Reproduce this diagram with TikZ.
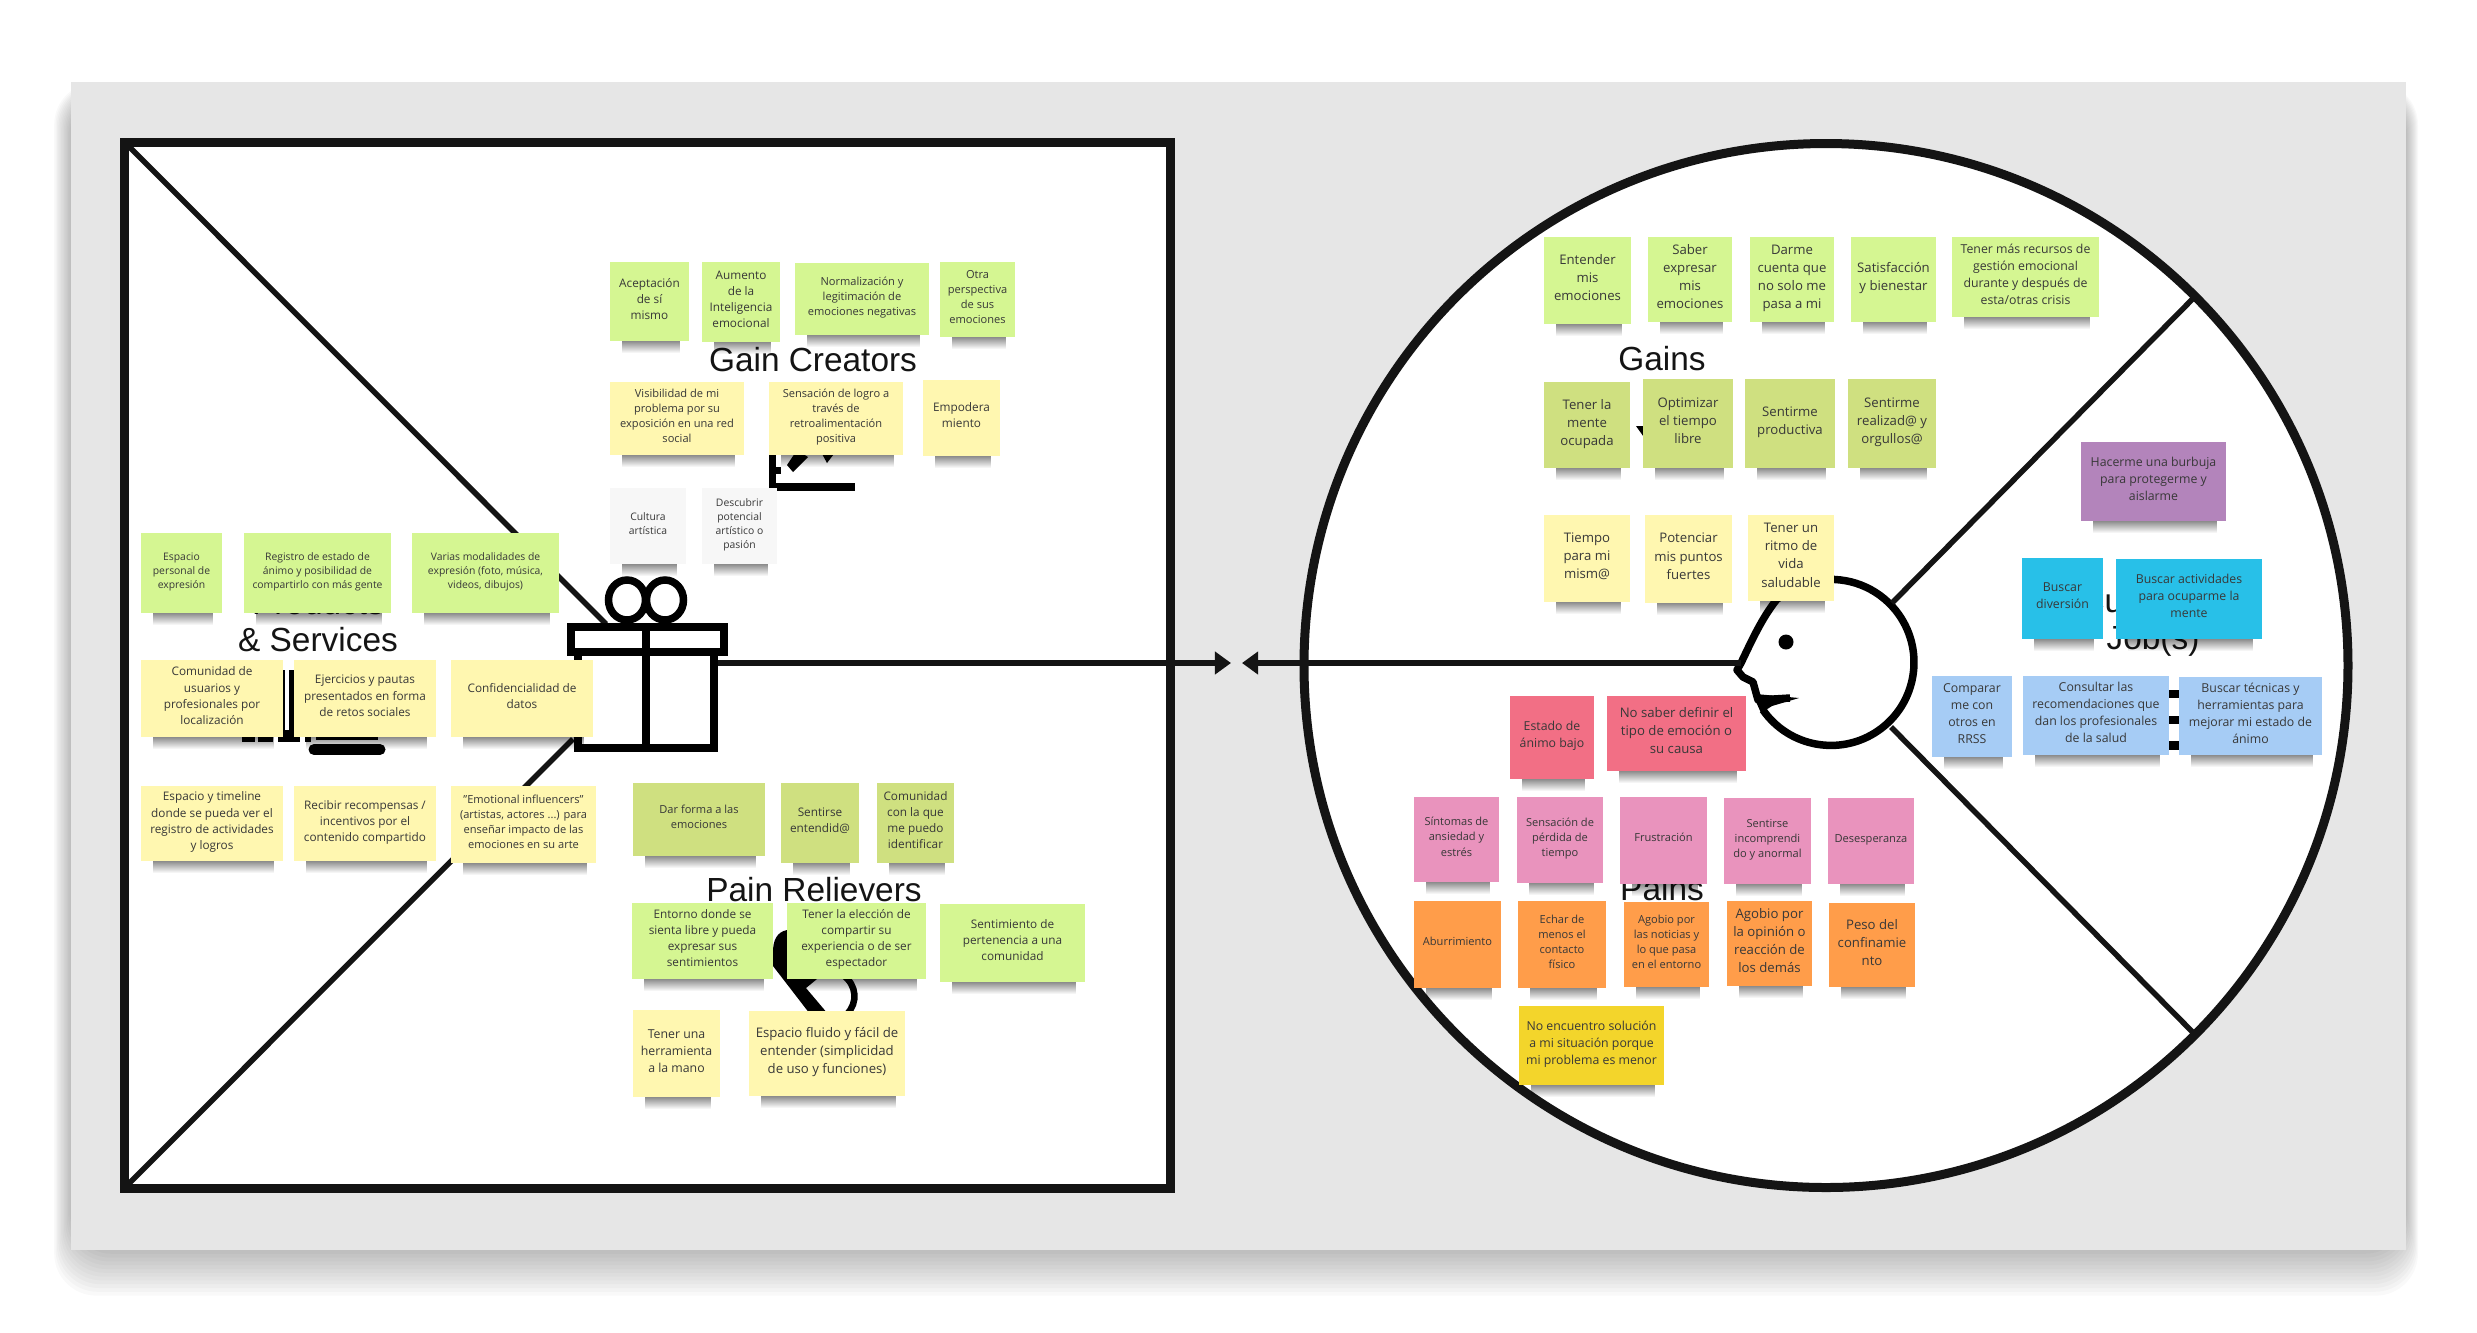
\documentclass[tikz,border=0pt]{standalone}
\usepackage{xcolor}
\usepackage{fontspec}
\usetikzlibrary{arrows.meta, calc, fadings}
\setmainfont{Open Sans}
\newfontfamily\titlefont{Liberation Sans}
\definecolor{canvasgray}{HTML}{E6E6E6}
\definecolor{inkline}{HTML}{141414}
\definecolor{notetext}{HTML}{383838}
\definecolor{notelime}{HTML}{D5F692}
\definecolor{noteolive}{HTML}{CFE080}
\definecolor{notecream}{HTML}{FFF7B0}
\definecolor{notewhite}{HTML}{F7F7F7}
\definecolor{notered}{HTML}{F26F85}
\definecolor{notepink}{HTML}{E993BD}
\definecolor{noteorange}{HTML}{FF9D4A}
\definecolor{notegold}{HTML}{F3D52B}
\definecolor{noteblue}{HTML}{A6CCF5}
\definecolor{notecyan}{HTML}{28C0E8}
\definecolor{notepurple}{HTML}{B384BB}
\def\px{0.01cm}
\tikzset{
  note/.style 2 args={minimum width=#1*\px, minimum height=#2*\px, inner sep=0pt, outer sep=0pt,
    align=center, text=notetext, text depth=1.6pt,
    append after command={\pgfextra{\fill[black, fill opacity=0.45, path fading=south]
      ($(\tikzlastnode.south west)+(12,0)$) rectangle ($(\tikzlastnode.south east)+(-9,12)$);}}},
  tx14/.style={font=\fontsize{2.95}{3.98}\selectfont},
  tx15/.style={font=\fontsize{3.15}{4.3}\selectfont},
  tx16/.style={font=\fontsize{3.35}{4.6}\selectfont},
  tx17/.style={font=\fontsize{3.5}{4.85}\selectfont},
  tx18/.style={font=\fontsize{3.75}{5.15}\selectfont},
  heading/.style={font=\titlefont\fontsize{9.5}{10.6}\selectfont, align=center, text=inkline, inner sep=0pt},
  thinline/.style={draw=inkline, line width=5.5*\px},
  boldline/.style={draw=inkline, line width=9*\px},
  iconline/.style={draw=black, line width=7.5*\px}
}
\begin{document}
\begin{tikzpicture}[x=0.01cm, y=-0.01cm, >={Triangle[length=0.16cm, width=0.22cm]}]
  \useasboundingbox (0,0) rectangle (2477,1332);
  % Lienzo con sombra
  \foreach \spread in {2,4,...,24}
    \fill[black, fill opacity=0.024, rounded corners=12] (71-0.7*\spread,92-0.4*\spread) rectangle (2406+0.5*\spread,1250+1.9*\spread);
  \fill[canvasgray] (71,82) rectangle (2406,1250);

  % Marcos
  \node[boldline, fill=white, minimum width=1046*\px, minimum height=1046*\px, inner sep=0pt, outer sep=0pt] (valuebox) at (647.5,665) {};
  \node[boldline, fill=white, circle, minimum size=1044*\px, inner sep=0pt, outer sep=0pt] (customer) at (1826,665.5) {};

  % Regalo
  \coordinate (giftup) at (606,624);
  \coordinate (giftdown) at (573,739);
  \coordinate (giftright) at (718,663);
  \draw[thinline] (valuebox.north west) -- (giftup);
  \draw[thinline] (valuebox.south west) -- (giftdown);
  \draw[iconline] (627,600) ellipse (18.5 and 20);
  \draw[iconline] (665,600) ellipse (18.5 and 20);
  \draw[iconline, fill=white] (578,652) rectangle (714,748);
  \draw[iconline, fill=white] (571,627) rectangle (724,652);
  \draw[iconline] (646,627) -- (646,748);

  % Cara
  \coordinate (mouthend) at (1763,710);
  \coordinate (noseback) at (1741,663);
  \coordinate (headup) at (1892,603);
  \coordinate (headdown) at (1891,727);
  \draw[iconline, line join=round] (mouthend) arc[start angle=145, end angle=-131, radius=83]
    .. controls (1762,618) and (1752,640) .. (noseback) -- (1737,670) -- (1743,677) -- (1753,682) -- (1758,700) -- (1790,698);
  \fill[black] (1756,694) -- (1799,698) -- (1772,706) -- (1761,713) -- (1757,704) -- cycle;
  \fill[black] (1786,642) circle[radius=7.5];
  \draw[thinline] (customer.45) -- (headup);
  \draw[thinline] (customer.-45) -- (headdown);

  % Flechas
  \draw[thinline, ->] (giftright) -- (1231,663);
  \draw[thinline, ->] (noseback) -- (1242,663);

  % Iconos tapados por las notas
  \fill[black] (769,450) rectangle (776,491);
  \fill[black] (769,483) rectangle (855,491);
  \fill[black] (776,467) rectangle (781,474);
  \fill[black] (787,465) -- (793,472) -- (808,457) -- (797,450) -- cycle;
  \fill[black] (820,450) -- (837,450) -- (827,463) -- cycle;
  \draw[black, line width=11*\px, line cap=round] (314,749.5) -- (380,749.5);
  \fill[black] (283,670) rectangle (284.5,730);
  \fill[black] (289,670) rectangle (293.5,741);
  \fill[black] (242,730) rectangle (255,742);
  \fill[black] (258,730) rectangle (273,742);
  \fill[black] (278,730) rectangle (300,742);
  \fill[black] (305,730) rectangle (311,742);
  \fill[black] (316,730) rectangle (378,740);
  \fill[black] (787,930) .. controls (777,932) and (773,940) .. (773,952) -- (773,966) -- (810,1014) -- (828,1014) -- (806,988) -- (817,979) -- (795,975) -- cycle;
  \draw[black, line width=6.5*\px] (843,975) .. controls (857,985) and (858,1003) .. (847,1014);
  \fill[black] (1636,426) -- (1646,426) -- (1646,440) -- cycle;
  \fill[black] (2165,690) rectangle (2182,698);
  \fill[black] (2165,716) rectangle (2182,724);
  \fill[black] (2165,741) rectangle (2182,750);

  % Titulos
  \node[heading] (gaincreators) at (813,360) {Gain Creators};
  \node[heading] (products) at (318,621) {Products\\\& Services};
  \node[heading] (painrelievers) at (814,890) {Pain Relievers};
  \node[heading] (gains) at (1662,359) {Gains};
  \node[heading] (customerjob) at (2153,623) {Customer\\Job(s)};
  \node[heading] (pains) at (1662,889) {Pains};

  % Gain creators
  \node[note={79}{79}, fill=notelime, tx16] (aceptacion) at (649.5,301.5) {Aceptación\\de sí\\mismo};
  \node[note={78}{80}, fill=notelime, tx16] (aumento) at (741,302) {Aumento\\de la\\Inteligencia\\emocional};
  \node[note={134}{72}, fill=notelime, tx15] (normalizacion) at (862,299) {Normalización y\\legitimación de\\emociones negativas};
  \node[note={75}{75}, fill=notelime, tx15] (perspectiva) at (977.5,299.5) {Otra\\perspectiva\\de sus\\emociones};
  \node[note={134}{73}, fill=notecream, tx15] (visibilidad) at (677,418.5) {Visibilidad de mi\\problema por su\\exposición en una red\\social};
  \node[note={134}{73}, fill=notecream, tx15] (logro) at (836,418.5) {Sensación de logro a\\través de\\retroalimentación\\positiva};
  \node[note={77}{76}, fill=notecream, tx16] (empodera) at (961.5,418) {Empodera\\miento};
  \node[note={76}{76}, fill=notewhite, tx14] (cultura) at (648,526) {Cultura\\artística};
  \node[note={75}{76}, fill=notewhite, tx14] (descubrir) at (739.5,526) {Descubrir\\potencial\\artístico o\\pasión};

  % Products and services
  \node[note={81}{80}, fill=notelime, tx14] (espacio) at (181.5,573) {Espacio\\personal de\\expresión};
  \node[note={147}{80}, fill=notelime, tx14] (registro) at (317.5,573) {Registro de estado de\\ánimo y posibilidad de\\compartirlo con más gente};
  \node[note={147}{80}, fill=notelime, tx14] (modalidades) at (485.5,573) {Varias modalidades de\\expresión (foto, música,\\videos, dibujos)};
  \node[note={142}{77}, fill=notecream, tx16] (comunidad) at (212,698.5) {Comunidad de\\usuarios y\\profesionales por\\localización};
  \node[note={142}{77}, fill=notecream, tx16] (ejercicios) at (365,698.5) {Ejercicios y pautas\\presentados en forma\\de retos sociales};
  \node[note={142}{77}, fill=notecream, tx16] (confidencial) at (522,698.5) {Confidencialidad de\\datos};
  \node[note={142}{75}, fill=notecream, tx16] (timeline) at (212,823.5) {Espacio y timeline\\donde se pueda ver el\\registro de actividades\\y logros};
  \node[note={142}{75}, fill=notecream, tx16] (recompensas) at (365,823.5) {Recibir recompensas /\\incentivos por el\\contenido compartido};
  \node[note={145}{77}, fill=notecream, tx15] (influencers) at (523.5,824.5) {"Emotional influencers"\\(artistas, actores ...) para\\enseñar impacto de las\\emociones en su arte};

  % Pain relievers
  \node[note={132}{73}, fill=noteolive, tx15] (darforma) at (699,819.5) {Dar forma a las\\emociones};
  \node[note={78}{80}, fill=noteolive, tx16] (entendida) at (820,823) {Sentirse\\entendid@};
  \node[note={77}{80}, fill=noteolive, tx16] (identificar) at (915.5,823) {Comunidad\\con la que\\me puedo\\identificar};
  \node[note={141}{76}, fill=notelime, tx16] (entorno) at (702.5,941) {Entorno donde se\\sienta libre y pueda\\expresar sus\\sentimientos};
  \node[note={139}{76}, fill=notelime, tx16] (eleccion) at (856.5,941) {Tener la elección de\\compartir su\\experiencia o de ser\\espectador};
  \node[note={145}{78}, fill=notelime, tx16] (pertenencia) at (1012.5,943) {Sentimiento de\\pertenencia a una\\comunidad};
  \node[note={87}{87}, fill=notecream, tx17] (herramienta) at (676.5,1053.5) {Tener una\\herramienta\\a la mano};
  \node[note={156}{85}, fill=notecream, tx18] (fluido) at (827,1053.5) {Espacio fluido y fácil de\\entender (simplicidad\\de uso y funciones)};

  % Gains
  \node[note={87}{87}, fill=notelime, tx18] (entender) at (1587.5,280.5) {Entender\\mis\\emociones};
  \node[note={84}{85}, fill=notelime, tx18] (saber) at (1690,279.5) {Saber\\expresar\\mis\\emociones};
  \node[note={84}{85}, fill=notelime, tx18] (darme) at (1792,279.5) {Darme\\cuenta que\\no solo me\\pasa a mi};
  \node[note={85}{85}, fill=notelime, tx18] (satisfaccion) at (1893.5,279.5) {Satisfacción\\y bienestar};
  \node[note={147}{80}, fill=notelime, tx17] (recursos) at (2025.5,277) {Tener más recursos de\\gestión emocional\\durante y después de\\esta/otras crisis};
  \node[note={86}{86}, fill=noteolive, tx18] (ocupada) at (1587,425) {Tener la\\mente\\ocupada};
  \node[note={90}{89}, fill=noteolive, tx18] (optimizar) at (1688,423.5) {Optimizar\\el tiempo\\libre};
  \node[note={90}{89}, fill=noteolive, tx18] (productiva) at (1790,423.5) {Sentirme\\productiva};
  \node[note={88}{89}, fill=noteolive, tx18] (realizada) at (1892,423.5) {Sentirme\\realizad@ y\\orgullos@};
  \node[note={86}{87}, fill=notecream, tx18] (tiempo) at (1587,558.5) {Tiempo\\para mi\\mism@};
  \node[note={87}{88}, fill=notecream, tx18] (potenciar) at (1688.5,559) {Potenciar\\mis puntos\\fuertes};
  \node[note={86}{86}, fill=notecream, tx18] (ritmo) at (1791,558) {Tener un\\ritmo de\\vida\\saludable};

  % Customer jobs
  \node[note={145}{79}, fill=notepurple, tx17] (burbuja) at (2153.5,481.5) {Hacerme una burbuja\\para protegerme y\\aislarme};
  \node[note={81}{81}, fill=notecyan, tx17] (diversion) at (2062.5,598.5) {Buscar\\diversión};
  \node[note={146}{80}, fill=notecyan, tx17] (actividades) at (2189,599) {Buscar actividades\\para ocuparme la\\mente};
  \node[note={80}{81}, fill=noteblue, tx17] (comparar) at (1972,716.5) {Comparar\\me con\\otros en\\RRSS};
  \node[note={146}{79}, fill=noteblue, tx17] (consultar) at (2096,715.5) {Consultar las\\recomendaciones que\\dan los profesionales\\de la salud};
  \node[note={143}{78}, fill=noteblue, tx17] (tecnicas) at (2250.5,716) {Buscar técnicas y\\herramientas para\\mejorar mi estado de\\ánimo};

  % Pains
  \node[note={84}{83}, fill=notered, tx17] (animo) at (1552,737.5) {Estado de\\ánimo bajo};
  \node[note={139}{75}, fill=notered, tx18] (definir) at (1676.5,733.5) {No saber definir el\\tipo de emoción o\\su causa};
  \node[note={85}{85}, fill=notepink, tx15] (sintomas) at (1456.5,839.5) {Síntomas de\\ansiedad y\\estrés};
  \node[note={86}{86}, fill=notepink, tx15] (perdida) at (1560,840) {Sensación de\\pérdida de\\tiempo};
  \node[note={87}{87}, fill=notepink, tx15] (frustracion) at (1663.5,840.5) {Frustración};
  \node[note={87}{86}, fill=notepink, tx15] (incomprendido) at (1767.5,841) {Sentirse\\incomprendi\\do y anormal};
  \node[note={86}{86}, fill=notepink, tx15] (desesperanza) at (1871,841) {Desesperanza};
  \node[note={87}{87}, fill=noteorange, tx15] (aburrimiento) at (1457.5,944.5) {Aburrimiento};
  \node[note={88}{87}, fill=noteorange, tx15] (contacto) at (1562,944.5) {Echar de\\menos el\\contacto\\físico};
  \node[note={85}{85}, fill=noteorange, tx15] (noticias) at (1666.5,944.5) {Agobio por\\las noticias y\\lo que pasa\\en el entorno};
  \node[note={85}{85}, fill=noteorange, tx18] (opinion) at (1769.5,943.5) {Agobio por\\la opinión o\\reacción de\\los demás};
  \node[note={86}{84}, fill=noteorange, tx18] (confinamiento) at (1872,945) {Peso del\\confinamie\\nto};
  \node[note={145}{79}, fill=notegold, tx17] (solucion) at (1591.5,1045.5) {No encuentro solución\\a mi situación porque\\mi problema es menor};
\end{tikzpicture}
\end{document}
